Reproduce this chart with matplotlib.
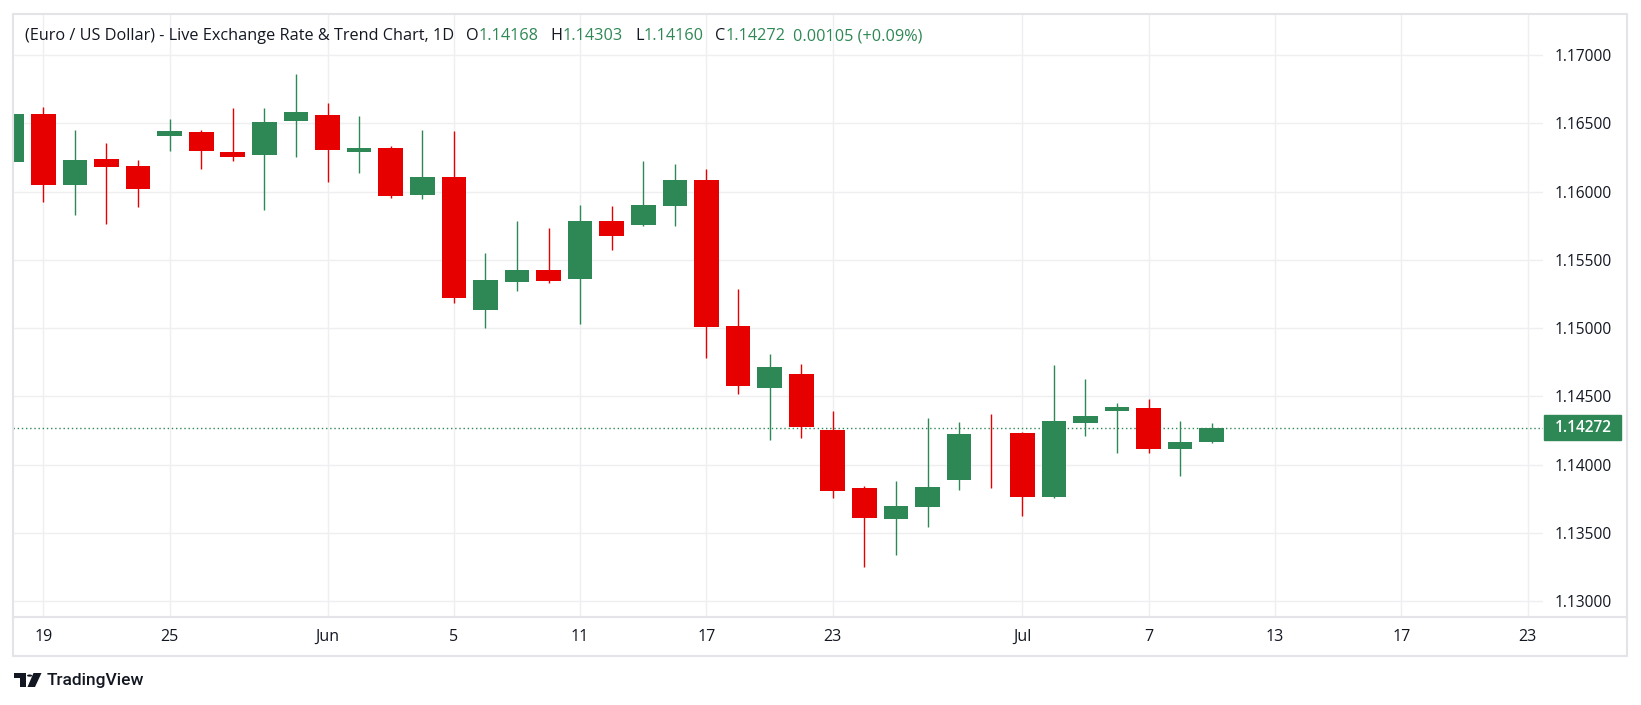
import numpy as np
import matplotlib.pyplot as plt
import matplotlib.transforms as mtransforms
from matplotlib.patches import Rectangle, Polygon, Circle
from matplotlib.lines import Line2D

plt.rcParams['font.family'] = ['Open Sans', 'DejaVu Sans']

# EUR/USD daily candles, 18 May (partly hidden) .. 9 Jul
opens = [1.16219, 1.16568, 1.16048, 1.16239, 1.16187, 1.16409, 1.16436, 1.16290, 1.16270, 1.16517,
         1.16561, 1.16292, 1.16319, 1.15977, 1.16107, 1.15133, 1.15338, 1.15426, 1.15360, 1.15785,
         1.15756, 1.15895, 1.16085, 1.15016, 1.14565, 1.14665, 1.14255, 1.13830, 1.13606, 1.13694,
         1.13891, 1.14228, 1.14233, 1.13767, 1.14308, 1.14396, 1.14416, 1.14118, 1.14168]
highs = [1.16600, 1.16619, 1.16451, 1.16356, 1.16231, 1.16531, 1.16451, 1.16612, 1.16612, 1.16861,
         1.16649, 1.16553, 1.16334, 1.16451, 1.16444, 1.15551, 1.15785, 1.15734, 1.15902, 1.15895,
         1.16224, 1.16202, 1.16165, 1.15287, 1.14811, 1.14738, 1.14394, 1.13845, 1.13882, 1.14343,
         1.14314, 1.14372, 1.14240, 1.14731, 1.14628, 1.14453, 1.14482, 1.14321, 1.14303]
lows = [1.16150, 1.15924, 1.15829, 1.15765, 1.15890, 1.16299, 1.16168, 1.16226, 1.15868, 1.16256,
        1.16073, 1.16138, 1.15955, 1.15948, 1.15187, 1.15002, 1.15272, 1.15331, 1.15031, 1.15573,
        1.15750, 1.15748, 1.14782, 1.14518, 1.14184, 1.14199, 1.13759, 1.13254, 1.13342, 1.13547,
        1.13818, 1.13833, 1.13628, 1.13759, 1.14211, 1.14089, 1.14089, 1.13920, 1.14160]
closes = [1.16568, 1.16048, 1.16231, 1.16180, 1.16021, 1.16444, 1.16299, 1.16256, 1.16510, 1.16583,
          1.16307, 1.16319, 1.15970, 1.16107, 1.15223, 1.15353, 1.15426, 1.15346, 1.15785, 1.15675,
          1.15902, 1.16085, 1.15009, 1.14577, 1.14716, 1.14275, 1.13811, 1.13613, 1.13699, 1.13838,
          1.14226, 1.14222, 1.13767, 1.14321, 1.14357, 1.14423, 1.14118, 1.14167, 1.14272]

# date labels (bar index, text); index 0 = 19 May
tick_pos = [0, 4, 9, 13, 17, 21, 25, 31, 35, 39, 43, 47]
tick_labels = ['19', '25', 'Jun', '5', '11', '17', '23', 'Jul', '7', '13', '17', '23']
price_ticks = [1.130, 1.135, 1.140, 1.145, 1.150, 1.155, 1.160, 1.165, 1.170]

title_main = '(Euro / US Dollar) - Live Exchange Rate & Trend Chart, 1D'
ohlc_parts = [('O', '1.14168'), ('H', '1.14303'), ('L', '1.14160'), ('C', '1.14272')]
change_text = '0.00105 (+0.09%)'

GREEN = '#2E8855'
RED = '#E60000'
TXT = '#131722'
GRID = '#EFEFF2'
BORDER = '#E4E4E8'

W, H = 1641, 705
fig = plt.figure(figsize=(W / 100, H / 100), dpi=100)
fig.patch.set_facecolor('white')


def fx(x):
    return x / W


def fy(y):
    return 1 - y / H


ax = fig.add_axes([fx(13.3), fy(617), fx(1543) - fx(13.3), fy(14) - fy(617)])

o = np.array(opens)
h = np.array(highs)
l = np.array(lows)
c = np.array(closes)
x = np.arange(len(o)) - 1
cols = np.where(c >= o, GREEN, RED)

ax.vlines(x, l, h, colors=cols, lw=1.0, zorder=3)
ax.bar(x, np.maximum(np.abs(c - o), 0.00006), bottom=np.minimum(o, c), width=0.78,
       color=cols, lw=0, zorder=4)

last = closes[-1]
ax.axhline(last, color=GREEN, lw=1.0, ls=(0, (1, 2)), zorder=2)

ax.set_xlim(-0.95, 47.49)
ax.set_ylim(1.12885, 1.17300)
ax.set_xticks(tick_pos)
ax.set_xticklabels(tick_labels)
ax.set_yticks(price_ticks)
ax.set_yticklabels(['%.5f' % p for p in price_ticks])
ax.yaxis.tick_right()
ax.tick_params(axis='y', length=0, pad=8.6, labelsize=11.2, labelcolor=TXT)
ax.tick_params(axis='x', length=0, pad=8.5, labelsize=11.5, labelcolor=TXT)
ax.grid(True, color=GRID, lw=1.0, zorder=0)
for s in ax.spines.values():
    s.set_visible(False)

# last price tag on the price scale
trans = mtransforms.blended_transform_factory(fig.transFigure, ax.transData)
tag_h = 25 / 13658
ax.add_artist(Rectangle((fx(1544), last - tag_h / 2), fx(1621) - fx(1544), tag_h,
                        transform=trans, color=GREEN, clip_on=False, zorder=5))
ax.text(fx(1555), last, '%.5f' % last, transform=trans, color='white', fontsize=11.2,
        fontweight='semibold', va='center', ha='left', zorder=6, clip_on=False)

# outer frame and the separator above the date scale
fig.add_artist(Rectangle((fx(13.3), fy(656)), fx(1627) - fx(13.3), fy(14) - fy(656),
                         transform=fig.transFigure, fill=False, edgecolor=BORDER, lw=1.5))
fig.add_artist(Line2D([fx(13.3), fx(1627)], [fy(617), fy(617)], transform=fig.transFigure,
                      color=BORDER, lw=1.5))

# title line, drawn piece by piece
fig.canvas.draw()
renderer = fig.canvas.get_renderer()
cur = fx(25)
ty = fy(36.5)


def put(s, color, gap=0):
    global cur
    cur += gap / W
    t = fig.text(cur, ty, s, color=color, fontsize=11.7, va='center', ha='left')
    bb = t.get_window_extent(renderer)
    cur = bb.x1 / W
    return t


put(title_main, TXT)
for k, v in ohlc_parts:
    put(k, TXT, gap=12)
    put(v, GREEN)
put(change_text, GREEN, gap=7)

# TradingView logo
lc = '#131722'
fig.add_artist(Rectangle((fx(14), fy(677.5)), fx(26) - fx(14), fy(673) - fy(677.5),
                         transform=fig.transFigure, color=lc, lw=0))
fig.add_artist(Rectangle((fx(20), fy(687)), fx(26) - fx(20), fy(673) - fy(687),
                         transform=fig.transFigure, color=lc, lw=0))
fig.add_artist(Polygon([(fx(33.5), fy(673)), (fx(41.5), fy(673)), (fx(35), fy(687)), (fx(27.5), fy(687))],
                       closed=True, transform=fig.transFigure, color=lc, lw=0))
fig.add_artist(Circle((fx(29.6), fy(675.6)), 2.6 / W, transform=fig.transFigure, color=lc, lw=0))
fig.text(fx(46.5), fy(680.5), 'TradingView', color=lc, fontsize=12.5, fontweight='medium',
         family=['Roboto', 'DejaVu Sans'], va='center', ha='left')

fig.savefig('out.png', dpi=100, facecolor='white')
